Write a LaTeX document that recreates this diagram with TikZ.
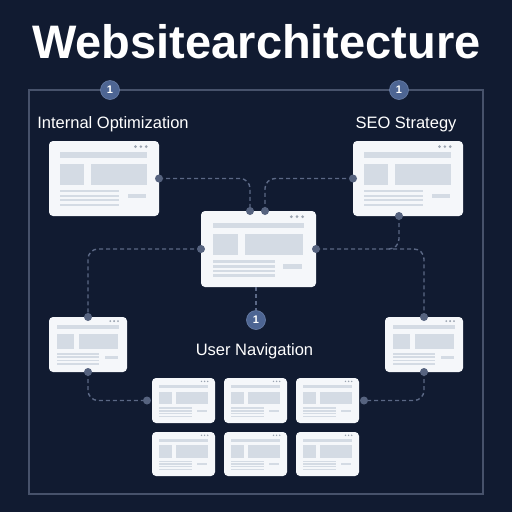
\documentclass[tikz,border=0pt]{standalone}
\usepackage{fontspec}
\setmainfont{Liberation Sans}
\usetikzlibrary{calc}
\definecolor{bgc}{HTML}{111B31}
\definecolor{framec}{HTML}{47526B}
\definecolor{connc}{HTML}{5B6885}
\definecolor{dotcol}{HTML}{56637F}
\definecolor{badgec}{HTML}{4D6593}
\definecolor{badgeline}{HTML}{6A7FA8}
\definecolor{cardc}{HTML}{F5F7FA}
\definecolor{phc}{HTML}{D4DBE4}
\definecolor{cdotc}{HTML}{9AA3B0}
\tikzset{
  cardbox/.style={fill=cardc, rounded corners=4pt, draw=none, inner sep=0pt, outer sep=0pt},
  conn/.style={draw=connc, line width=1.4pt, dash pattern=on 4pt off 3pt, rounded corners=10pt},
  badge/.style={circle, fill=badgec, draw=badgeline, line width=0.6pt, minimum size=19pt, inner sep=0pt, text=white, font=\fontsize{11}{11}\selectfont\bfseries},
  lbl/.style={text=white, font=\fontsize{16.5}{18}\selectfont, anchor=base, inner sep=0pt},
}
\newcommand\webcard[5]{%
  \node[cardbox, minimum width=#4pt, minimum height=#5pt] (#1) at (#2,#3) {};
  \pgfmathsetmacro\webdr{0.013*#4}
  \begin{scope}[shift={(#1.north west)}, x=#4pt, y=-#5pt]
    \fill[phc] (0.104,0.153) rectangle (0.893,0.22);
    \fill[phc] (0.104,0.30) rectangle (0.32,0.585);
    \fill[phc] (0.38,0.30) rectangle (0.887,0.585);
    \foreach \yy in {0.667,0.73,0.79,0.85}{\fill[phc] (0.104,\yy-0.016) rectangle (0.64,\yy+0.016);}
    \fill[phc] (0.716,0.70) rectangle (0.88,0.76);
    \foreach \xx in {0.786,0.835,0.884}{\fill[cdotc] (\xx,0.075) circle (\webdr pt);}
  \end{scope}}
\begin{document}
\begin{tikzpicture}[x=1pt,y=-1pt]
\useasboundingbox (0,0) rectangle (512,512);
\fill[bgc] (0,0) rectangle (512,512);
\node[font=\fontsize{47}{50}\selectfont\bfseries, text=white, anchor=base, inner sep=0pt] (title) at (256.5,58) {Websitearchitecture};
\draw[framec, line width=1.2pt] (29,90) rectangle (483,494);
% cards
\webcard{tl}{104}{178.5}{110}{75}
\webcard{tr}{408}{178.5}{110}{75}
\webcard{c}{258.5}{249}{115}{76}
\webcard{ml}{88}{344.5}{78}{55}
\webcard{mr}{424}{344.5}{78}{55}
\webcard{ga}{183.5}{400.5}{63}{45}
\webcard{gb}{255.5}{400.5}{63}{45}
\webcard{gc}{327.5}{400.5}{63}{45}
\webcard{gd}{183.5}{454}{63}{44}
\webcard{ge}{255.5}{454}{63}{44}
\webcard{gf}{327.5}{454}{63}{44}
% badges
\node[badge] (b1) at (110,90) {1};
\node[badge] (b2) at (399,90) {1};
\node[badge] (b3) at (256,320) {1};
% labels
\node[lbl] (l1) at (113,128) {Internal Optimization};
\node[lbl] (l2) at (406,128) {SEO Strategy};
\node[lbl] (l3) at (254.5,355) {User Navigation};
% connector ends
\coordinate (p1) at (tl.east);
\coordinate (p2) at ([xshift=-8.5pt]c.north);
\coordinate (p3) at ([xshift=6.5pt]c.north);
\coordinate (p4) at (tr.west);
\coordinate (p5) at ([xshift=-9pt]tr.south);
\coordinate (j) at ([xshift=70pt]c.east);
\coordinate (cb) at (b3.north |- c.south);
\coordinate (gl) at ([xshift=-5pt]ga.west);
\coordinate (gr) at ([xshift=5pt]gc.east);
\draw[conn] (p1) -| (p2);
\draw[conn] (p4) -| (p3);
\draw[conn] (c.west) -| (ml.north);
\draw[conn] (c.east) -| (mr.north);
\draw[conn] (p5) |- (j);
\draw[conn] (cb) -- (b3.north);
\draw[conn] (ml.south) |- (gl);
\draw[conn] (mr.south) |- (gr);
\foreach \pp in {p1,p2,p3,p4,p5,c.west,c.east,ml.north,mr.north,ml.south,mr.south,gl,gr}{\fill[dotcol] (\pp) circle (4pt);}
\end{tikzpicture}
\end{document}
